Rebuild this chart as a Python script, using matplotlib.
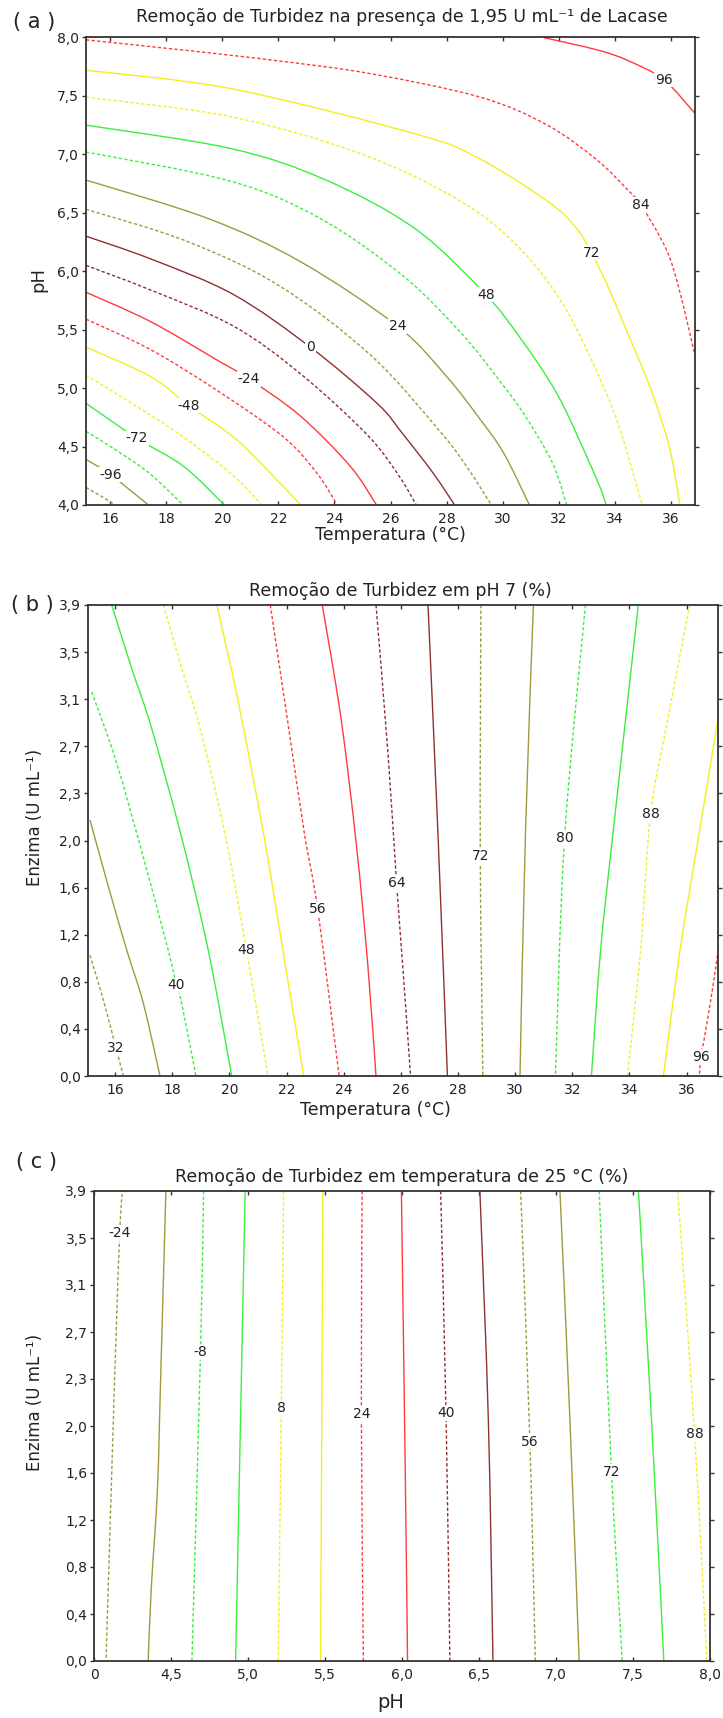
import matplotlib
matplotlib.use('Agg')
import matplotlib.pyplot as plt
from matplotlib.path import Path
from matplotlib.patches import PathPatch

W, H = 723, 1718

# contour colours, each used for a dashed then a solid level
OLIVE = '#a09a3c'
GREEN = '#3cef3c'
YELLOW = '#f5ee1e'
RED = '#ff3b3b'
DKRED = '#8e3030'
CYCLE = [OLIVE, GREEN, YELLOW, RED, DKRED]

# ---- (a) Temperatura x pH, 1,95 U/mL ----
a_levels = [-108, -96, -84, -72, -60, -48, -36, -24, -12, 0, 12, 24, 36, 48, 60, 72, 84, 96]
a_T = [
    [15.13, 15.64, 16.18],
    [15.13, 16.0, 17.36],
    [15.13, 16.2, 17.4, 18.6],
    [15.13, 16.95, 18.62, 20.07],
    [15.13, 16.83, 18.5, 20.4, 21.4],
    [15.13, 17.43, 18.8, 20.4, 21.6, 22.8],
    [15.13, 17.43, 19.81, 22.19, 23.38, 24.1],
    [15.13, 17.43, 19.81, 20.94, 22.79, 24.57, 25.5],
    [15.13, 17.43, 20.4, 22.8, 25.17, 26.3, 26.92],
    [15.13, 17.5, 20.4, 23.14, 25.52, 26.4, 27.5, 28.29],
    [15.13, 18.69, 22.0, 25.3, 27.8, 28.8, 29.6],
    [15.13, 19.5, 22.8, 26.25, 28.0, 29.21, 30.05, 30.96],
    [15.13, 20.3, 23.5, 26.5, 28.6, 29.87, 30.76, 31.78, 32.29],
    [15.13, 20.3, 23.7, 26.9, 29.4, 30.6, 31.65, 32.31, 33.38, 33.7],
    [15.13, 20.35, 25.0, 28.5, 30.6, 32.2, 33.5, 34.2, 34.99],
    [15.13, 20.35, 26.97, 29.2, 31.6, 32.6, 33.17, 33.8, 34.5, 35.17, 35.6, 36.0, 36.33],
    [15.13, 18.7, 22.0, 25.3, 29.2, 31.6, 33.38, 34.45, 34.93, 35.82, 36.3, 36.87],
    [31.46, 33.44, 34.5, 35.75, 36.87],
]
a_pH = [
    [4.15, 4.08, 4.0],
    [4.39, 4.26, 4.0],
    [4.63, 4.47, 4.27, 4.0],
    [4.87, 4.57, 4.33, 4.0],
    [5.11, 4.86, 4.6, 4.25, 4.0],
    [5.35, 5.10, 4.85, 4.58, 4.30, 4.0],
    [5.59, 5.33, 4.98, 4.58, 4.27, 4.0],
    [5.82, 5.57, 5.24, 5.08, 4.76, 4.33, 4.0],
    [6.05, 5.84, 5.53, 5.12, 4.6, 4.25, 4.0],
    [6.30, 6.10, 5.80, 5.35, 4.87, 4.62, 4.28, 4.0],
    [6.53, 6.26, 5.88, 5.28, 4.62, 4.3, 4.0],
    [6.78, 6.45, 6.08, 5.53, 5.10, 4.73, 4.44, 4.0],
    [7.02, 6.77, 6.45, 5.95, 5.45, 5.07, 4.78, 4.36, 4.0],
    [7.25, 7.05, 6.78, 6.36, 5.80, 5.44, 5.07, 4.78, 4.21, 4.0],
    [7.49, 7.32, 7.0, 6.6, 6.2, 5.7, 5.07, 4.64, 4.0],
    [7.72, 7.56, 7.17, 6.96, 6.60, 6.38, 6.16, 5.85, 5.45, 5.07, 4.78, 4.45, 4.0],
    [7.98, 7.89, 7.80, 7.69, 7.49, 7.25, 6.95, 6.70, 6.57, 6.20, 5.85, 5.28],
    [8.0, 7.89, 7.80, 7.64, 7.35],
]
# vertex that carries the level label (None = unlabelled)
a_lab = [None, 1, None, 1, None, 2, None, 3, None, 3, None, 3, None, 4, None, 6, 8, 3]

# ---- (b) Temperatura x Enzima, pH 7 ----
b_levels = [32, 36, 40, 44, 48, 52, 56, 60, 64, 68, 72, 76, 80, 84, 88, 92, 96]
b_T = [
    [15.12, 15.6, 16.03, 16.29],
    [15.12, 15.75, 16.41, 16.99, 17.57],
    [15.18, 16.03, 17.0, 17.86, 18.15, 18.33, 18.83],
    [15.88, 16.6, 17.25, 18.3, 19.26, 20.08],
    [17.69, 18.35, 18.95, 19.85, 20.6, 21.35],
    [19.56, 20.3, 21.2, 21.9, 22.6],
    [21.43, 22.0, 22.63, 23.09, 23.84],
    [23.25, 23.9, 24.45, 24.85, 25.13],
    [25.13, 25.55, 25.85, 26.1, 26.34],
    [26.95, 27.3, 27.63],
    [28.8, 28.78, 28.87],
    [30.64, 30.36, 30.17],
    [32.46, 31.73, 31.41],
    [34.31, 33.42, 32.99, 32.67],
    [36.11, 35.3, 34.74, 34.39, 33.93],
    [37.08, 36.4, 35.77, 35.19],
    [37.08, 36.94, 36.65, 36.5, 36.45],
]
b_E = [
    [1.0, 0.62, 0.23, 0.0],
    [2.12, 1.58, 1.04, 0.60, 0.0],
    [3.18, 2.61, 1.8, 1.04, 0.75, 0.60, 0.0],
    [3.9, 3.36, 2.9, 2.0, 1.04, 0.0],
    [3.9, 3.36, 2.9, 2.0, 1.04, 0.0],
    [3.9, 3.11, 2.0, 1.0, 0.0],
    [3.9, 3.0, 2.0, 1.38, 0.0],
    [3.9, 2.97, 1.9, 0.9, 0.0],
    [3.9, 2.67, 1.6, 0.8, 0.0],
    [3.9, 2.0, 0.0],
    [3.9, 1.82, 0.0],
    [3.9, 2.0, 0.0],
    [3.9, 1.97, 0.0],
    [3.9, 2.0, 1.04, 0.0],
    [3.9, 2.9, 2.17, 1.04, 0.0],
    [2.93, 1.95, 1.04, 0.0],
    [1.0, 0.77, 0.35, 0.16, 0.0],
]
b_lab = [2, None, 4, None, 4, None, 3, None, 2, None, 1, None, 1, None, 2, None, 3]

# ---- (c) pH x Enzima, 25 ºC ----
c_levels = [-24, -16, -8, 0, 8, 16, 24, 32, 40, 48, 56, 64, 72, 80, 88]
c_pH = [
    [4.21, 4.165, 4.076],
    [4.465, 4.43, 4.41, 4.37, 4.35],
    [4.71, 4.69, 4.634],
    [4.98, 4.95, 4.918],
    [5.23, 5.215, 5.195],
    [5.485, 5.478, 5.47],
    [5.74, 5.735, 5.748],
    [5.995, 6.02, 6.035],
    [6.25, 6.285, 6.31],
    [6.505, 6.56, 6.59],
    [6.77, 6.83, 6.865],
    [7.025, 7.09, 7.15],
    [7.28, 7.36, 7.43],
    [7.535, 7.62, 7.70],
    [7.79, 7.90, 7.98],
]
c_E = [
    [3.9, 3.55, 0.0],
    [3.9, 2.3, 1.42, 0.6, 0.0],
    [3.9, 2.56, 0.0],
    [3.9, 2.0, 0.0],
    [3.9, 2.10, 0.0],
    [3.9, 2.0, 0.0],
    [3.9, 2.05, 0.0],
    [3.9, 1.6, 0.0],
    [3.9, 2.06, 0.0],
    [3.9, 2.0, 0.0],
    [3.9, 1.82, 0.0],
    [3.9, 2.0, 0.0],
    [3.9, 1.57, 0.0],
    [3.9, 2.0, 0.0],
    [3.9, 1.88, 0.0],
]
c_lab = [1, None, 1, None, 1, None, 1, None, 1, None, 1, None, 1, None, 1]

temp_ticks = [16, 18, 20, 22, 24, 26, 28, 30, 32, 34, 36]
ph_ticks = [4.0, 4.5, 5.0, 5.5, 6.0, 6.5, 7.0, 7.5, 8.0]
ph_ticklabels = ['4,0', '4,5', '5,0', '5,5', '6,0', '6,5', '7,0', '7,5', '8,0']
ph_ticklabels_c = ['0', '4,5', '5,0', '5,5', '6,0', '6,5', '7,0', '7,5', '8,0']
enz_ticks = [0.0, 0.39, 0.78, 1.17, 1.56, 1.95, 2.34, 2.73, 3.12, 3.51, 3.9]
enz_ticklabels = ['0,0', '0,4', '0,8', '1,2', '1,6', '2,0', '2,3', '2,7', '3,1', '3,5', '3,9']

TXT = '#222222'


def px_axes(fig, left, right, top, bottom):
    return fig.add_axes([left / W, 1 - bottom / H, (right - left) / W, (bottom - top) / H])


def fig_text(fig, x, y, s, **kw):
    fig.text(x / W, 1 - y / H, s, ha='center', va='center', color=TXT, **kw)


def smooth_path(x, y):
    # Catmull-Rom through the read points, as cubic Bezier segments
    pts = list(zip(x, y))
    n = len(pts)
    verts = [pts[0]]
    codes = [Path.MOVETO]
    for i in range(n - 1):
        p0 = pts[i - 1] if i > 0 else pts[i]
        p1, p2 = pts[i], pts[i + 1]
        p3 = pts[i + 2] if i + 2 < n else pts[i + 1]
        c1 = (p1[0] + (p2[0] - p0[0]) / 6, p1[1] + (p2[1] - p0[1]) / 6)
        c2 = (p2[0] - (p3[0] - p1[0]) / 6, p2[1] - (p3[1] - p1[1]) / 6)
        verts += [c1, c2, p2]
        codes += [Path.CURVE4] * 3
    return Path(verts, codes)


def draw_lines(ax, xs, ys, levels, labs):
    for i, (x, y, lev, k) in enumerate(zip(xs, ys, levels, labs)):
        col = CYCLE[(i // 2) % len(CYCLE)]
        ls = (0, (2.4, 1.6)) if i % 2 == 0 else '-'
        ax.add_patch(PathPatch(smooth_path(x, y), facecolor='none', edgecolor=col,
                               lw=1.0, ls=ls, capstyle='butt', zorder=2))
        if k is not None:
            ax.text(x[k], y[k], str(lev), ha='center', va='center', fontsize=10,
                    color=TXT, zorder=3,
                    bbox=dict(facecolor='white', edgecolor='none', pad=0.6))


def style_axes(ax):
    for sp in ax.spines.values():
        sp.set_color('#333333')
        sp.set_linewidth(1.3)
    ax.tick_params(axis='both', labelsize=10, labelcolor=TXT, color='#333333',
                   length=3, width=1, top=True, right=True, direction='in')
    ax.tick_params(axis='y', which='both', left=True, direction='out', pad=2)
    ax.tick_params(axis='x', pad=5)


fig = plt.figure(figsize=(W / 100, H / 100), dpi=100)

# (a)
ax = px_axes(fig, 86, 695, 37.5, 505)
draw_lines(ax, a_T, a_pH, a_levels, a_lab)
ax.set_xlim(15.13, 36.87)
ax.set_ylim(4.0, 8.0)
ax.set_xticks(temp_ticks)
ax.set_yticks(ph_ticks)
ax.set_yticklabels(ph_ticklabels)
style_axes(ax)
fig_text(fig, 402, 17, 'Remoção de Turbidez na presença de 1,95 U mL⁻¹ de Lacase', fontsize=12.5)
fig_text(fig, 34, 22, '( a )', fontsize=15)
fig_text(fig, 390, 535, 'Temperatura (°C)', fontsize=12.5)
fig.text(38 / W, 1 - 279 / H, 'pH', rotation=90, ha='center', va='center', color=TXT, fontsize=13)

# (b)
ax = px_axes(fig, 87.7, 718, 605, 1076)
draw_lines(ax, b_T, b_E, b_levels, b_lab)
ax.set_xlim(15.04, 37.1)
ax.set_ylim(0.0, 3.9)
ax.set_xticks(temp_ticks)
ax.set_yticks(enz_ticks)
ax.set_yticklabels(enz_ticklabels)
style_axes(ax)
fig_text(fig, 400, 591, 'Remoção de Turbidez em pH 7 (%)', fontsize=12.5)
fig_text(fig, 32, 605, '( b )', fontsize=15)
fig_text(fig, 375, 1110, 'Temperatura (°C)', fontsize=12.5)
fig.text(35 / W, 1 - 817 / H, 'Enzima (U mL⁻¹)', rotation=90, ha='center', va='center',
         color=TXT, fontsize=12)

# (c)
ax = px_axes(fig, 94.3, 710, 1191, 1661)
draw_lines(ax, c_pH, c_E, c_levels, c_lab)
ax.set_xlim(4.0, 8.0)
ax.set_ylim(0.0, 3.9)
ax.set_xticks(ph_ticks)
ax.set_xticklabels(ph_ticklabels_c)
ax.set_yticks(enz_ticks)
ax.set_yticklabels(enz_ticklabels)
style_axes(ax)
fig_text(fig, 402, 1177, 'Remoção de Turbidez em temperatura de 25 °C (%)', fontsize=12.5)
fig_text(fig, 37, 1162, '( c )', fontsize=15)
fig_text(fig, 391, 1703, 'pH', fontsize=14)
fig.text(35 / W, 1 - 1402 / H, 'Enzima (U mL⁻¹)', rotation=90, ha='center', va='center',
         color=TXT, fontsize=12)

fig.savefig('out.png', dpi=100, facecolor='white')
